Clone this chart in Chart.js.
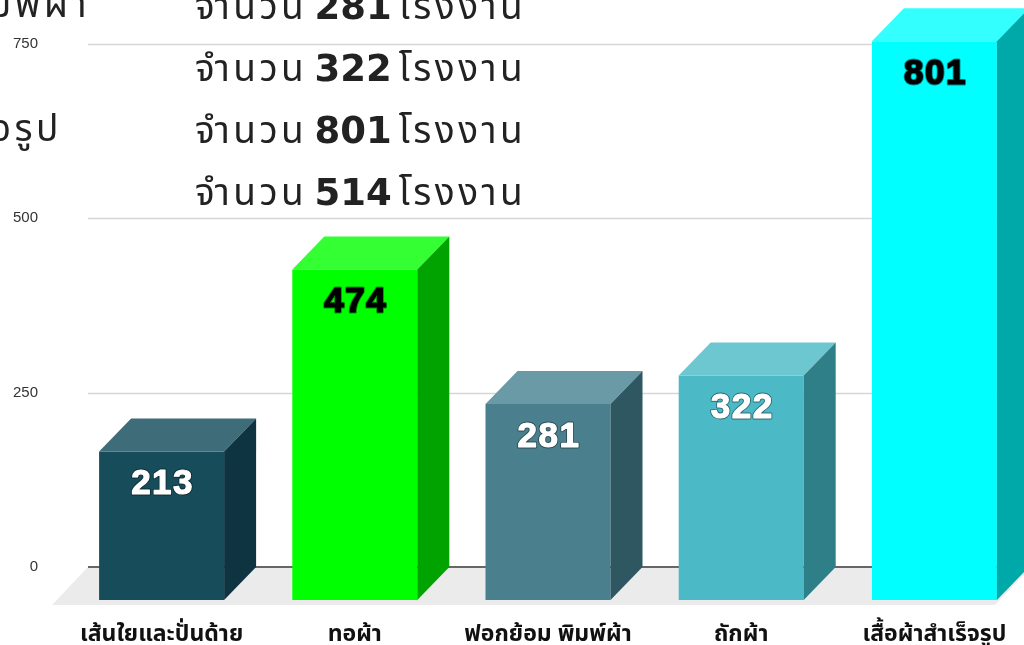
<!DOCTYPE html>
<html>
<head>
<meta charset="utf-8">
<script src="https://cdn.jsdelivr.net/npm/chart.js@4/dist/chart.umd.min.js"></script>
<style>
  html, body { margin: 0; padding: 0; background: #fff; overflow: hidden; }
  #wrap { position: relative; width: 1024px; height: 645px; overflow: hidden; }
  #factories { position: absolute; left: 0; top: 0; }
  .note { position: absolute; font-family: "Noto Sans Thai", "Noto Sans", sans-serif; font-size: 37px; letter-spacing: 3.5px; word-spacing: -6px; color: #222; white-space: nowrap; line-height: 1; }
  .note b { font-family: "DejaVu Sans", sans-serif; font-size: 37px; letter-spacing: 0; }
</style>
</head>
<body>
<div id="wrap">
  <canvas id="factories" width="1031" height="645"></canvas>
  <div id="notes"></div>
</div>
<script>
var categories = ["เส้นใยและปั่นด้าย", "ทอผ้า", "ฟอกย้อม พิมพ์ผ้า", "ถักผ้า", "เสื้อผ้าสำเร็จรูป"];
var factoryCount = [213, 474, 281, 322, 801];
var yTicks = [0, 250, 500, 750];

// colours for each bar: front, top, side
var frontColors = ["#174c5b", "#00ff00", "#4a808e", "#4bb9c6", "#00ffff"];
var topColors = ["#3e6d79", "#33ff33", "#6a9aa6", "#6cc7d1", "#33ffff"];
var sideColors = ["#0d3440", "#00a300", "#2f5761", "#2e7f88", "#00a9a9"];
var valueColors = ["#ffffff", "#000000", "#ffffff", "#ffffff", "#000000"];

// side text from the slide that sits over the chart
var noteLeft = ["ฟอกย้อม พิมพ์ผ้า", "", "เสื้อผ้าสำเร็จรูป", ""];
var noteCounts = [281, 322, 801, 514];

var DX = 32, DY = 33;   // depth of the 3D boxes

var notes = document.getElementById('notes');
noteCounts.forEach(function (n, i) {
    var y = -12 + i * 62;
    var d = document.createElement('div');
    d.className = 'note';
    d.style.left = '195px';
    d.style.top = y + 'px';
    d.innerHTML = 'จำนวน <b>' + n + '</b> โรงงาน';
    notes.appendChild(d);
    if (noteLeft[i]) {
        var l = document.createElement('div');
        l.className = 'note';
        l.style.right = (1024 - (i === 0 ? 90 : 62)) + 'px';
        l.style.top = y + 'px';
        l.textContent = noteLeft[i];
        notes.appendChild(l);
    }
});

var box3d = {
    id: 'box3d',
    beforeDatasetsDraw: function (chart) {
        var ctx = chart.ctx, area = chart.chartArea, y = chart.scales.y;
        var zero = y.getPixelForValue(0);
        ctx.save();
        // grid lines, starting a bit right of the axis
        ctx.strokeStyle = '#d6d6d6';
        ctx.lineWidth = 1.5;
        yTicks.forEach(function (t) {
            if (t === 0) return;
            var py = Math.round(y.getPixelForValue(t)) + 0.5;
            ctx.beginPath();
            ctx.moveTo(88, py);
            ctx.lineTo(area.right, py);
            ctx.stroke();
        });
        // floor
        ctx.fillStyle = '#ebebeb';
        ctx.beginPath();
        ctx.moveTo(88, zero);
        ctx.lineTo(area.right, zero);
        ctx.lineTo(area.right - 36, zero + 38);
        ctx.lineTo(52, zero + 38);
        ctx.closePath();
        ctx.fill();
        // zero line
        ctx.strokeStyle = '#666';
        ctx.lineWidth = 2;
        ctx.beginPath();
        ctx.moveTo(88, zero);
        ctx.lineTo(area.right, zero);
        ctx.stroke();
        ctx.restore();
    },
    beforeDatasetDraw: function (chart) {
        chart.ctx.save();
        chart.ctx.translate(0, DY);
    },
    afterDatasetDraw: function (chart) {
        chart.ctx.restore();
    },
    afterDatasetsDraw: function (chart) {
        var ctx = chart.ctx;
        var bars = chart.getDatasetMeta(0).data;
        ctx.save();
        bars.forEach(function (bar, i) {
            var w = bar.width, left = bar.x - w / 2, right = bar.x + w / 2;
            var top = bar.y + DY, bottom = bar.base + DY;
            ctx.fillStyle = topColors[i];
            ctx.beginPath();
            ctx.moveTo(left, top);
            ctx.lineTo(right, top);
            ctx.lineTo(right + DX, top - DY);
            ctx.lineTo(left + DX, top - DY);
            ctx.closePath();
            ctx.fill();
            ctx.fillStyle = sideColors[i];
            ctx.beginPath();
            ctx.moveTo(right, top);
            ctx.lineTo(right + DX, top - DY);
            ctx.lineTo(right + DX, bottom - DY);
            ctx.lineTo(right, bottom);
            ctx.closePath();
            ctx.fill();
            // value on the front face
            ctx.font = 'bold 35px "Liberation Sans", Arial, sans-serif';
            ctx.letterSpacing = '1.5px';
            ctx.textAlign = 'center';
            ctx.textBaseline = 'middle';
            ctx.lineJoin = 'round';
            ctx.strokeStyle = 'rgba(0,0,0,0.45)';
            ctx.lineWidth = 3;
            ctx.strokeText(factoryCount[i], bar.x + 1, top + 33);
            ctx.fillStyle = valueColors[i];
            ctx.strokeStyle = valueColors[i];
            ctx.lineWidth = 1.2;
            ctx.strokeText(factoryCount[i], bar.x + 1, top + 33);
            ctx.fillText(factoryCount[i], bar.x + 1, top + 33);
        });
        ctx.restore();
    }
};

new Chart(document.getElementById('factories'), {
    type: 'bar',
    data: {
        labels: categories,
        datasets: [{
            data: factoryCount,
            backgroundColor: frontColors,
            borderWidth: 0,
            categoryPercentage: 1,
            barPercentage: 0.647,
            clip: false
        }]
    },
    options: {
        responsive: false,
        animation: false,
        layout: { padding: 0 },
        plugins: { legend: { display: false }, tooltip: { enabled: false } },
        scales: {
            x: {
                grid: { display: false, drawTicks: false },
                border: { display: false },
                afterFit: function (s) { s.height = 78; s.paddingLeft = 0; s.paddingRight = 0; },
                ticks: {
                    padding: 56,
                    color: '#111',
                    font: { family: '"Noto Sans Thai", "Noto Sans", sans-serif', size: 23, weight: 'bold' }
                }
            },
            y: {
                min: 0,
                max: 813,
                grid: { display: false, drawTicks: false },
                border: { display: false },
                afterFit: function (s) { s.width = 65; s.paddingTop = 0; s.paddingBottom = 0; },
                afterBuildTicks: function (s) {
                    s.ticks = yTicks.map(function (v) { return { value: v }; });
                },
                ticks: {
                    padding: 27,
                    color: '#333',
                    font: { family: '"Liberation Sans", Arial, sans-serif', size: 15 }
                }
            }
        }
    },
    plugins: [box3d]
});
</script>
</body>
</html>
